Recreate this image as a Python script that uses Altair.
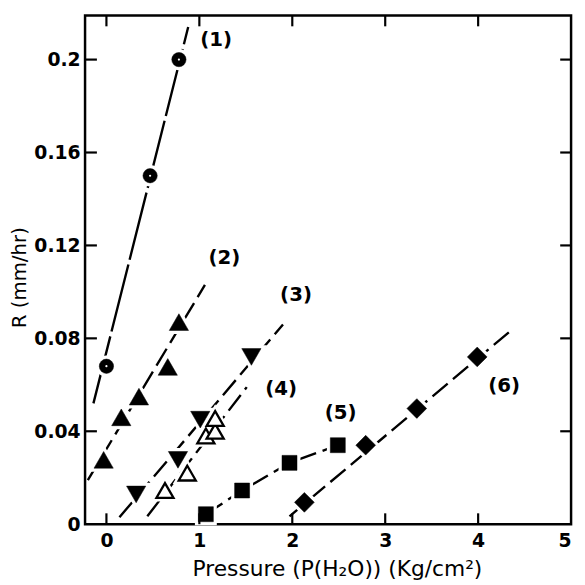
import altair as alt
import pandas as pd

# ---- data ----
# marker positions: x = pressure P(H2O) (Kg/cm2), y = R (mm/hr)
s1_x = [0.0, 0.47, 0.78]
s1_y = [0.068, 0.150, 0.200]
s2_x = [-0.03, 0.16, 0.35, 0.66, 0.78]
s2_y = [0.0277, 0.046, 0.0549, 0.0677, 0.087]
s3_x = [0.32, 0.77, 1.01, 1.56]
s3_y = [0.0128, 0.0277, 0.045, 0.072]
s4_x = [0.63, 0.87, 1.07, 1.17, 1.17]
s4_y = [0.0145, 0.022, 0.038, 0.040, 0.0455]
s5_x = [1.07, 1.46, 1.97, 2.49]
s5_y = [0.0043, 0.0145, 0.0264, 0.034]
s6_x = [2.13, 2.79, 3.34, 3.99]
s6_y = [0.0094, 0.034, 0.0498, 0.072]

# drawn lines (end points / vertices)
l1_x = [-0.14, 0.88]
l1_y = [0.052, 0.214]
l2_x = [-0.20, 1.06]
l2_y = [0.019, 0.103]
l3_x = [0.14, 1.90]
l3_y = [0.003, 0.086]
l4_x = [0.44, 1.51]
l4_y = [0.0034, 0.059]
l5_x = [1.07, 1.46, 1.97, 2.49]
l5_y = [0.0043, 0.0145, 0.0264, 0.034]
l6_x = [1.97, 4.33]
l6_y = [0.0034, 0.0826]

# series labels
lab_text = ["(1)", "(2)", "(3)", "(4)", "(5)", "(6)"]
lab_x = [1.18, 1.27, 2.04, 1.88, 2.52, 4.28]
lab_y = [0.2085, 0.1145, 0.0987, 0.0583, 0.0477, 0.0596]

# axis ticks
x_ticks = [0, 1, 2, 3, 4, 5]
y_ticks = [0, 0.04, 0.08, 0.12, 0.16, 0.2]
x_inner = [0, 1, 2, 3, 4]
y_inner = [0.04, 0.08, 0.12, 0.16, 0.2]

W, H = 492, 515
FONT = "DejaVu Sans"

xs = alt.Scale(domain=[-0.23, 5], nice=False, zero=False)
ys = alt.Scale(domain=[0, 0.219], nice=False, zero=False)

X = alt.X("x:Q", scale=xs, axis=alt.Axis(
    values=x_ticks, format="d", tickSize=0, domain=False, grid=False,
    labelFont=FONT, labelFontWeight="bold", labelFontSize=19,
    labelColor="black", labelPadding=8,
    title="Pressure (P(H₂O)) (Kg/cm²)", titleFont=FONT,
    titleFontWeight="normal", titleFontSize=22, titleColor="black",
    titlePadding=8, titleX=255))
Y = alt.Y("y:Q", scale=ys, axis=alt.Axis(
    values=y_ticks, format=".2~f", tickSize=0, domain=False, grid=False,
    labelFont=FONT, labelFontWeight="bold", labelFontSize=19,
    labelColor="black", labelPadding=5,
    title="R (mm/hr)", titleFont=FONT, titleFontWeight="normal",
    titleFontSize=20, titleColor="black", titlePadding=4, titleY=265))


def df(xv, yv):
    return pd.DataFrame({"x": xv, "y": yv})


lines = []
for i, (lx, ly) in enumerate([(l1_x, l1_y), (l2_x, l2_y), (l3_x, l3_y),
                              (l4_x, l4_y), (l5_x, l5_y), (l6_x, l6_y)]):
    dash = [70, 5] if i == 0 else [20, 7]
    lines.append(alt.Chart(df(lx, ly)).mark_line(
        color="black", strokeWidth=2.4, strokeDash=dash).encode(x=X, y=Y))


def pts(xv, yv, shape, size, filled=True):
    halo = alt.Chart(df(xv, yv)).mark_point(
        shape=shape, size=size, filled=True, fill="white", stroke="white",
        strokeWidth=7, opacity=1).encode(x=X, y=Y)
    if filled:
        m = alt.Chart(df(xv, yv)).mark_point(
            shape=shape, size=size, filled=True, fill="black", stroke="black",
            strokeWidth=0.5, opacity=1)
    else:
        m = alt.Chart(df(xv, yv)).mark_point(
            shape=shape, size=size, filled=True, fill="white", stroke="black",
            strokeWidth=2.3, opacity=1)
    return [halo, m.encode(x=X, y=Y)]


p1 = pts(s1_x, s1_y, "circle", 210)
p1c = alt.Chart(df(s1_x, s1_y)).mark_point(
    shape="circle", size=5, filled=True, fill="white", opacity=1).encode(x=X, y=Y)
p2 = pts(s2_x, s2_y, "triangle-up", 380)
p3 = pts(s3_x, s3_y, "triangle-down", 380)
p4 = pts(s4_x, s4_y, "triangle-up", 300, filled=False)
p5 = pts(s5_x, s5_y, "square", 230)
p6 = pts(s6_x, s6_y, "diamond", 400)

labels = alt.Chart(pd.DataFrame({"x": lab_x, "y": lab_y, "t": lab_text})).mark_text(
    font=FONT, fontWeight="bold", fontSize=20,
    color="black", align="center", baseline="middle").encode(x=X, y=Y, text="t:N")

tick_len = 11
bt = alt.Chart(pd.DataFrame({"x": x_inner})).mark_rule(color="black", strokeWidth=2.2).encode(
    x=X, y=alt.value(H), y2=alt.value(H - tick_len))
tt = alt.Chart(pd.DataFrame({"x": x_inner})).mark_rule(color="black", strokeWidth=2.2).encode(
    x=X, y=alt.value(0), y2=alt.value(tick_len))
lt = alt.Chart(pd.DataFrame({"y": y_inner})).mark_rule(color="black", strokeWidth=2.2).encode(
    y=Y, x=alt.value(0), x2=alt.value(tick_len + 1))
rt = alt.Chart(pd.DataFrame({"y": y_inner})).mark_rule(color="black", strokeWidth=2.2).encode(
    y=Y, x=alt.value(W), x2=alt.value(W - tick_len))

chart = alt.layer(
    *lines, *p1, p1c, *p2, *p3, *p4, *p5, *p6, labels, bt, tt, lt, rt
).properties(
    width=W, height=H,
    autosize=alt.AutoSizeParams(type="none"),
    padding={"left": 78, "top": 4, "right": 6, "bottom": 57},
    background="white",
).configure_view(stroke="black", strokeWidth=2.5)

chart.save("out.html", embed_options={"renderer": "svg", "actions": False})
